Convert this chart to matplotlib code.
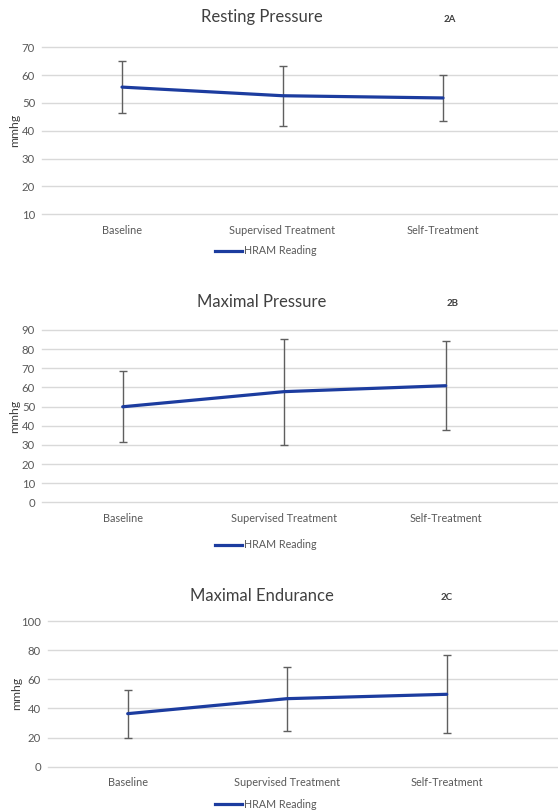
import matplotlib
matplotlib.use("Agg")
import matplotlib.pyplot as plt
from matplotlib.lines import Line2D

plt.rcParams['font.family'] = ['Lato', 'DejaVu Sans']

categories = ["Baseline", "Supervised Treatment", "Self-Treatment"]

resting_mean = [55.7, 52.6, 51.8]
resting_upper = [65.2, 63.4, 60.0]
resting_lower = [46.3, 41.8, 43.6]

maximal_mean = [49.9, 57.8, 60.9]
maximal_upper = [68.4, 85.4, 84.2]
maximal_lower = [31.5, 29.9, 37.6]

endurance_mean = [36.4, 46.7, 49.7]
endurance_upper = [52.9, 68.6, 76.5]
endurance_lower = [19.5, 24.5, 23.3]

titles = ["Resting Pressure", "Maximal Pressure", "Maximal Endurance"]
panel_tags = ["2A", "2B", "2C"]
series_label = "HRAM Reading"
y_label = "mmhg"

W, H = 558, 811
fig = plt.figure(figsize=(W / 100, H / 100), dpi=100)

LINE_C = "#1c3c9f"
ERR_C = "#5f5f5f"
GRID_C = "#d9d9d9"
TXT_C = "#595959"

layouts = [
    dict(left=42, top=47.3, bottom=214.3, ymin=10, ymax=70, step=10, x0=122.0, sp=160.5,
         title_y=17, tag_x=450, tag_y=20, cat_y=230, leg_y=251, ylab_x=15),
    dict(left=42, top=330.0, bottom=502.3, ymin=0, ymax=90, step=10, x0=122.7, sp=161.5,
         title_y=302, tag_x=453, tag_y=303, cat_y=518, leg_y=545, ylab_x=15),
    dict(left=48, top=621.0, bottom=766.7, ymin=0, ymax=100, step=20, x0=127.7, sp=159.5,
         title_y=596, tag_x=447, tag_y=597, cat_y=783, leg_y=804, ylab_x=17),
]

datasets = [
    (resting_mean, resting_upper, resting_lower),
    (maximal_mean, maximal_upper, maximal_lower),
    (endurance_mean, endurance_upper, endurance_lower),
]

for lay, (mean, upper, lower), title, tag in zip(layouts, datasets, titles, panel_tags):
    left = lay["left"]
    ax = fig.add_axes([left / W, 1 - lay["bottom"] / H, (W - left) / W,
                       (lay["bottom"] - lay["top"]) / H])
    xs = list(range(len(categories)))
    xl = -(lay["x0"] - left) / lay["sp"]
    xr = (W - lay["x0"]) / lay["sp"]
    ax.set_xlim(xl, xr)
    ax.set_ylim(lay["ymin"], lay["ymax"])
    yerr = [[m - l for m, l in zip(mean, lower)], [u - m for m, u in zip(mean, upper)]]
    ax.errorbar(xs, mean, yerr=yerr, fmt='none', ecolor=ERR_C, elinewidth=1.0,
                capsize=3, capthick=1.0, zorder=2)
    ax.plot(xs, mean, color=LINE_C, lw=2.3, solid_capstyle='round', zorder=3)
    ticks = list(range(lay["ymin"], lay["ymax"] + 1, lay["step"]))
    ax.set_yticks(ticks)
    ax.set_yticklabels([str(t) for t in ticks])
    ax.set_xticks([])
    ax.yaxis.grid(True, color=GRID_C, lw=1.0)
    for gl in ax.get_ygridlines():
        gl.set_clip_on(False)
    ax.set_axisbelow(True)
    for s in ax.spines.values():
        s.set_visible(False)
    ax.tick_params(axis='y', length=0, pad=5, labelsize=8.2, labelcolor=TXT_C)
    ax.patch.set_alpha(0)

    for x, c in zip(xs, categories):
        px = lay["x0"] + x * lay["sp"]
        fig.text(px / W, 1 - lay["cat_y"] / H, c, ha='center', va='center',
                 fontsize=7.8, color=TXT_C)
    fig.text(262 / W, 1 - lay["title_y"] / H, title, ha='center', va='center',
             fontsize=12, color="#404040")
    fig.text(lay["tag_x"] / W, 1 - lay["tag_y"] / H, tag, ha='center', va='center',
             fontsize=7, color="#404040", fontweight='bold')
    fig.text(lay["ylab_x"] / W, 1 - ((lay["top"] + lay["bottom"]) / 2) / H, y_label,
             ha='center', va='center', rotation=90, fontsize=8.8, color="#404040")
    fig.add_artist(Line2D([215 / W, 242 / W], [1 - lay["leg_y"] / H] * 2,
                          color=LINE_C, lw=2.3, transform=fig.transFigure))
    fig.text(244 / W, 1 - lay["leg_y"] / H, series_label, ha='left', va='center',
             fontsize=7.7, color=TXT_C)

fig.savefig("out.png", dpi=100, facecolor="white")
